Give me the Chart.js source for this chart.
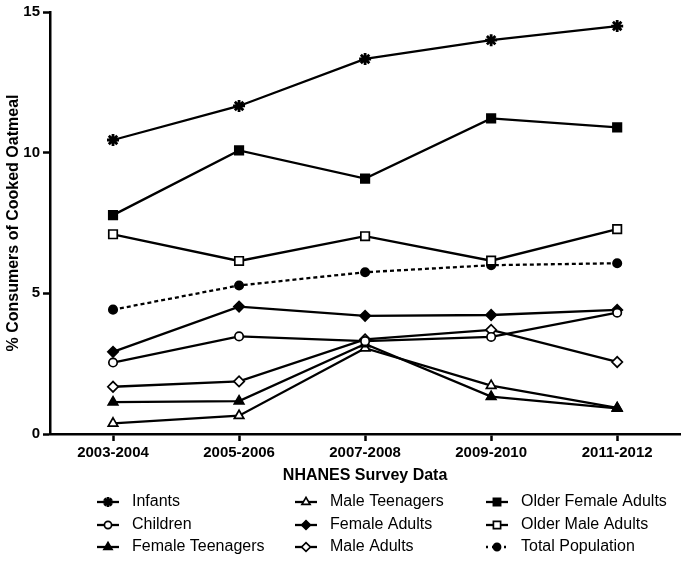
<!DOCTYPE html>
<html>
<head>
<meta charset="utf-8">
<script src="https://cdn.jsdelivr.net/npm/chart.js@4/dist/chart.umd.min.js"></script>
<style>
  html, body { margin: 0; padding: 0; background: #fff; }
  #wrap { width: 689px; height: 561px; }
</style>
</head>
<body>
<div id="wrap"><canvas id="myChart" width="689" height="561"></canvas></div>
<script>
// survey cycles
const categories = ["2003-2004", "2005-2006", "2007-2008", "2009-2010", "2011-2012"];

// % consumers of cooked oatmeal
const infants = [10.45, 11.66, 13.33, 14.0, 14.5];
const children = [2.54, 3.47, 3.3, 3.45, 4.31];
const femaleTeenagers = [1.13, 1.17, 3.2, 1.33, 0.91];
const maleTeenagers = [0.38, 0.65, 3.05, 1.72, 0.93];
const femaleAdults = [2.92, 4.53, 4.2, 4.23, 4.41];
const maleAdults = [1.68, 1.87, 3.36, 3.7, 2.56];
const olderFemaleAdults = [7.78, 10.08, 9.08, 11.22, 10.9];
const olderMaleAdults = [7.1, 6.15, 7.03, 6.16, 7.28];
const totalPopulation = [4.42, 5.28, 5.75, 6.0, 6.07];

const yTicks = [0, 5, 10, 15];

const FONT = "'Liberation Sans', Arial, sans-serif";

function serie(label, data, style, radius, fill, dash) {
  return {
    label: label,
    data: data,
    borderColor: "#000",
    borderWidth: 2.3,
    borderDash: dash || [],
    pointStyle: style,
    pointRadius: radius,
    pointHoverRadius: radius,
    pointBackgroundColor: fill ? "#000" : "#fff",
    pointBorderColor: "#000",
    pointBorderWidth: style === "star" ? 2.8 : 1.7,
    fill: false,
    tension: 0,
  };
}

const datasets = [
  serie("Infants", infants, "star", 6, true),
  serie("Children", children, "circle", 4.2, false),
  serie("Female Teenagers", femaleTeenagers, "triangle", 5.5, true),
  serie("Male Teenagers", maleTeenagers, "triangle", 5.5, false),
  serie("Female Adults", femaleAdults, "rectRot", 5.2, true),
  serie("Male Adults", maleAdults, "rectRot", 5.2, false),
  serie("Older Female Adults", olderFemaleAdults, "rect", 6, true),
  serie("Older Male Adults", olderMaleAdults, "rect", 6, false),
  serie("Total Population", totalPopulation, "circle", 4.2, true, [4, 3]),
];

// legend drawn by hand in three columns
const legendCols = [108, 306, 497];
const legendRows = [502, 525, 547];

const legendPlugin = {
  id: "colLegend",
  afterDraw(chart) {
    const ctx = chart.ctx;
    ctx.save();
    chart.data.datasets.forEach((ds, i) => {
      const cx = legendCols[Math.floor(i / 3)];
      const cy = legendRows[i % 3];
      ctx.strokeStyle = "#000";
      ctx.lineWidth = 2.3;
      ctx.setLineDash(ds.borderDash.length ? [2, 4] : []);
      ctx.beginPath();
      ctx.moveTo(cx - 11, cy);
      ctx.lineTo(cx + 11, cy);
      ctx.stroke();
      ctx.setLineDash([]);
      ctx.fillStyle = ds.pointBackgroundColor;
      ctx.lineWidth = ds.pointBorderWidth;
      Chart.helpers.drawPoint(ctx, {
        pointStyle: ds.pointStyle,
        radius: ds.pointRadius * 0.85,
        rotation: 0,
        borderWidth: ds.pointBorderWidth,
      }, cx, cy);
      ctx.fillStyle = "#000";
      ctx.font = "16px " + FONT;
      ctx.textBaseline = "middle";
      ctx.textAlign = "left";
      ctx.fillText(ds.label, cx + 24, cy);
    });
    ctx.restore();
  },
};

const ctx = document.getElementById("myChart").getContext("2d");
const myChart = new Chart(ctx, {
  type: "line",
  data: {
    labels: categories,
    datasets: datasets,
  },
  plugins: [legendPlugin],
  options: {
    responsive: false,
    animation: false,
    layout: {
      padding: { top: 12, right: 6, bottom: 76, left: 0 },
    },
    plugins: {
      legend: { display: false },
      tooltip: { enabled: false },
    },
    scales: {
      x: {
        offset: true,
        grid: {
          display: true,
          drawOnChartArea: false,
          drawTicks: true,
          tickLength: 7,
          tickWidth: 2.5,
          tickColor: "#000",
          offset: false,
        },
        border: { display: true, color: "#000", width: 2.5 },
        ticks: {
          color: "#000",
          padding: 3,
          font: { family: FONT, size: 15, weight: "bold" },
          maxRotation: 0,
        },
        title: {
          display: true,
          text: "NHANES Survey Data",
          color: "#000",
          font: { family: FONT, size: 16, weight: "bold" },
          padding: { top: 4, bottom: 0 },
        },
        afterFit(scale) {
          scale.height = 51;
        },
      },
      y: {
        min: 0,
        max: 15,
        afterBuildTicks(scale) {
          scale.ticks = yTicks.map((v) => ({ value: v }));
        },
        grid: {
          display: true,
          drawOnChartArea: false,
          drawTicks: true,
          tickLength: 7,
          tickWidth: 2.5,
          tickColor: "#000",
        },
        border: { display: true, color: "#000", width: 2.5 },
        ticks: {
          color: "#000",
          padding: 3,
          font: { family: FONT, size: 15, weight: "bold" },
        },
        title: {
          display: true,
          text: "% Consumers of Cooked Oatmeal",
          color: "#000",
          font: { family: FONT, size: 16, weight: "bold" },
          padding: { top: 4, bottom: 4 },
        },
        afterFit(scale) {
          scale.width = 50;
        },
      },
    },
  },
});
</script>
</body>
</html>
